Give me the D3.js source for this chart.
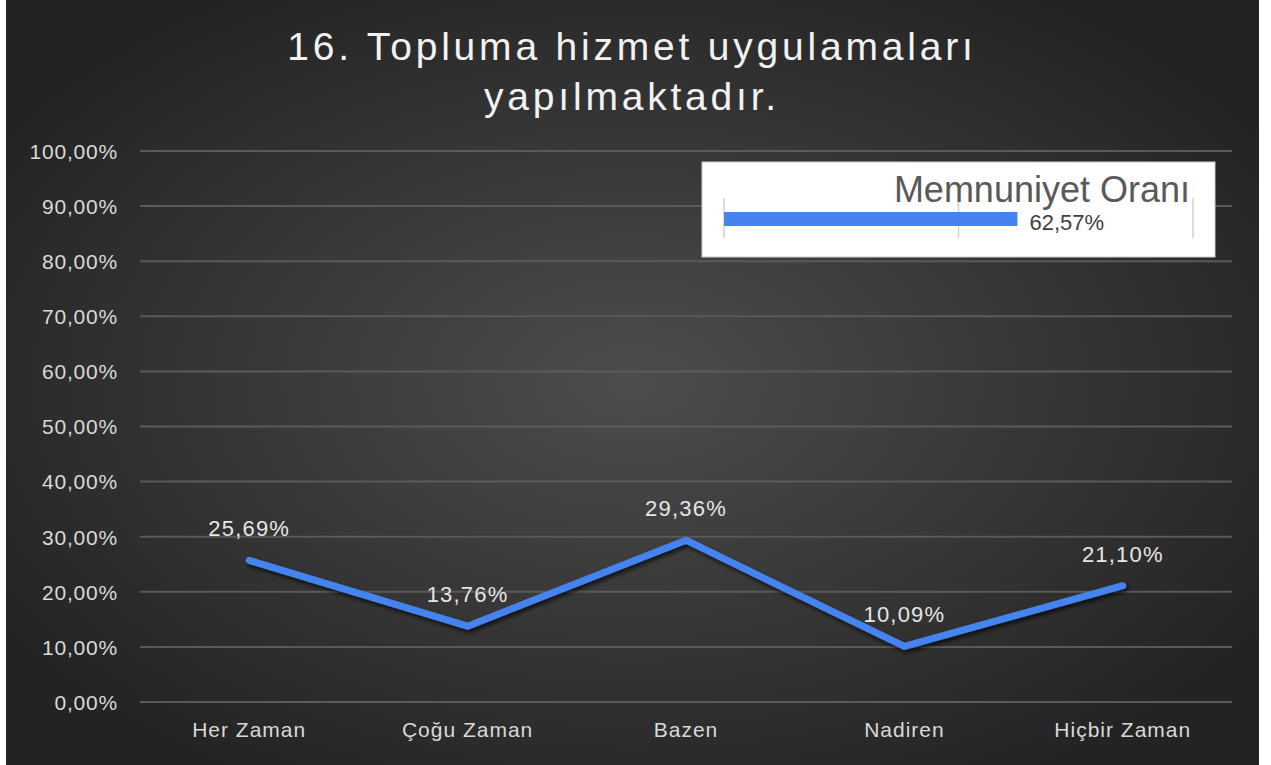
<!DOCTYPE html>
<html><head><meta charset="utf-8">
<script src="https://cdn.jsdelivr.net/npm/d3@7"></script>
<style>html,body{margin:0;padding:0;background:#fff;}svg{display:block;}</style>
</head><body>
<svg id="c" width="1271" height="765"></svg>
<script>
const categories = ["Her Zaman", "Çoğu Zaman", "Bazen", "Nadiren", "Hiçbir Zaman"];
const values = [25.69, 13.76, 29.36, 10.09, 21.10];
const yTicks = [0, 10, 20, 30, 40, 50, 60, 70, 80, 90, 100];
const titleLines = ["16. Topluma hizmet uygulamaları", "yapılmaktadır."];
const legendLabel = "Memnuniyet Oranı";
const legendValue = 62.57;
const legendTicks = [0, 50, 100];

const fmt = v => v.toFixed(2).replace(".", ",") + "%";
const font = "'Liberation Sans', Arial, sans-serif";
const svg = d3.select("#c");
const defs = svg.append("defs");
const rg = defs.append("radialGradient").attr("id","bg").attr("cx","50%").attr("cy","50%").attr("r","60%");
rg.append("stop").attr("offset","0%").attr("stop-color","#4d4d4d");
rg.append("stop").attr("offset","100%").attr("stop-color","#232323");
const f = defs.append("filter").attr("id","sh").attr("x","-10%").attr("y","-20%").attr("width","120%").attr("height","150%");
f.append("feDropShadow").attr("dx",2).attr("dy",3).attr("stdDeviation",2).attr("flood-color","#000").attr("flood-opacity",0.7);

svg.append("rect").attr("x",6).attr("y",0).attr("width",1253).attr("height",765).attr("fill","url(#bg)");

// title
svg.append("g").selectAll("text").data(titleLines).join("text")
  .attr("x", 632).attr("y",(d,i)=>60 + i*50)
  .attr("text-anchor","middle").attr("fill","#f2f2f2")
  .style("font-family",font).style("font-size","39px").style("letter-spacing","3.8px")
  .text(d=>d);

const x = d3.scaleBand().domain(categories).range([140,1232]);
const y = d3.scaleLinear().domain([0,100]).range([702,151]);

// grid
svg.append("g").selectAll("line").data(yTicks).join("line")
  .attr("x1",140).attr("x2",1232).attr("y1",d=>y(d)).attr("y2",d=>y(d))
  .attr("stroke","#5a5a5a").attr("stroke-width",2);

// y axis labels
const yAxis = svg.append("g").attr("transform","translate(128,0)")
  .call(d3.axisLeft(y).tickValues(yTicks).tickSize(0).tickPadding(10).tickFormat(d=>fmt(d)));
yAxis.select(".domain").remove();
yAxis.selectAll("text").attr("fill","#d9d9d9").style("font-family",font).style("font-size","21px")
  .style("letter-spacing","0.8px").attr("dy","0.35em");

// x axis labels
const xAxis = svg.append("g").attr("transform","translate(0,722)")
  .call(d3.axisBottom(x).tickSize(0).tickPadding(0));
xAxis.select(".domain").remove();
xAxis.selectAll("text").attr("fill","#d9d9d9").style("font-family",font).style("font-size","21px")
  .style("letter-spacing","1px").attr("dy","0.71em");

// line
const line = d3.line().x((d,i)=>x(categories[i])+x.bandwidth()/2).y(d=>y(d));
svg.append("path").datum(values).attr("d",line).attr("fill","none")
  .attr("stroke","#4584ee").attr("stroke-width",7).attr("stroke-linejoin","round").attr("stroke-linecap","round")
  .attr("filter","url(#sh)");

// data labels
svg.append("g").selectAll("text").data(values).join("text")
  .attr("x",(d,i)=>x(categories[i])+x.bandwidth()/2).attr("y",d=>y(d)-24)
  .attr("text-anchor","middle").attr("fill","#e6e6e6")
  .style("font-family",font).style("font-size","22px").style("letter-spacing","1.2px").text(d=>fmt(d));

// legend box
const lg = svg.append("g");
lg.append("rect").attr("x",702).attr("y",162).attr("width",513).attr("height",95).attr("fill","#fff").attr("stroke","#ccc");
const lx = d3.scaleLinear().domain([0,100]).range([724,1193]);
lg.selectAll("line.t").data(legendTicks).join("line").attr("class","t")
  .attr("x1",d=>lx(d)).attr("x2",d=>lx(d)).attr("y1",198).attr("y2",238)
  .attr("stroke","#d0d0d0").attr("stroke-width",1.5);
lg.append("rect").attr("x",lx(0)).attr("y",212).attr("width",lx(legendValue)-lx(0)).attr("height",14).attr("fill","#4584ee");
lg.append("text").attr("x",1190).attr("y",202).attr("text-anchor","end").attr("fill","#595959")
  .style("font-family",font).style("font-size","36px").text(legendLabel);
lg.append("text").attr("x",lx(legendValue)+12).attr("y",230).attr("fill","#404040")
  .style("font-family",font).style("font-size","22px").text(fmt(legendValue));
</script>
</body></html>
